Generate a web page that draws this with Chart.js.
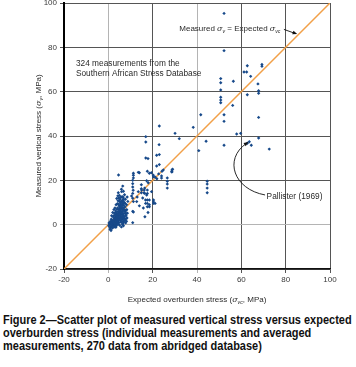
<!DOCTYPE html>
<html>
<head>
<meta charset="utf-8">
<script src="https://cdn.jsdelivr.net/npm/chart.js@4.4.0/dist/chart.umd.min.js"></script>
<style>
  html, body { margin: 0; padding: 0; background: #fff; }
  #wrap { position: relative; width: 356px; height: 367px; overflow: hidden; }
  #chart { position: absolute; left: 0; top: -5px; }
  #caption {
    position: absolute; left: 3px; top: 313px;
    font: bold 13px "Liberation Sans", Arial, sans-serif;
    line-height: 13px; color: #111; white-space: nowrap;
    transform-origin: 0 0;
  }
  #caption span { display: inline-block; }
</style>
</head>
<body>
<div id="wrap">
  <canvas id="chart" width="356" height="312"></canvas>
  <div id="caption">
    <span id="cap1">Figure 2—Scatter plot of measured vertical stress versus expected</span><br>
    <span>overburden stress (individual measurements and averaged</span><br>
    <span>measurements, 270 data from abridged database)</span>
  </div>
</div>
<script>
// [expected overburden stress, measured vertical stress] in MPa
const lowCluster = [
  [0.2,-0.5],[0.5,0.3],[0.8,-1.2],[1.0,-2.0],[1.2,0.5],[1.4,-0.8],[1.5,1.2],[1.7,0.0],[1.9,-1.5],[2.0,0.8],
  [2.1,2.0],[2.3,-0.4],[2.4,1.5],[2.6,0.2],[2.7,2.8],[2.8,-1.0],[3.0,1.0],[3.1,3.5],[3.2,0.4],[3.3,2.2],
  [3.5,-0.6],[3.6,1.8],[3.7,4.0],[3.8,0.9],[3.9,2.9],[4.0,5.0],[4.1,1.4],[4.2,3.3],[4.3,0.2],[4.4,6.0],
  [4.5,2.5],[4.6,4.4],[4.7,1.0],[4.8,7.0],[4.9,3.0],[5.0,5.5],[5.1,-0.3],[5.2,8.0],[5.3,2.0],[5.4,4.0],
  [5.5,6.5],[5.6,9.0],[5.7,3.2],[5.8,5.0],[5.9,10.5],[6.0,7.5],[6.1,1.5],[6.2,4.5],[6.3,8.5],[6.4,11.0],
  [6.5,6.0],[6.6,3.0],[6.7,9.5],[6.8,12.0],[6.9,7.0],[7.0,5.0],[7.2,10.0],[7.3,13.5],[7.5,8.0],[7.7,11.5],
  [8.0,6.5],[8.2,9.0],[8.5,12.5],[8.8,10.5],[0.3,0.8],[0.6,-0.2],[0.9,1.5],[1.1,0.2],[1.3,2.5],[1.6,-0.3],
  [1.8,1.8],[2.2,3.5],[2.5,-0.8],[2.9,1.8],[3.4,4.6],[3.4,-1.2],[3.6,5.5],[3.9,0.0],[4.0,3.8],[4.2,7.5],
  [4.5,0.5],[4.7,5.8],[4.9,8.5],[5.0,2.8],[5.2,6.8],[5.4,9.8],[5.6,1.2],[5.8,7.8],[6.0,12.5],[6.2,2.5],
  [6.4,6.8],[6.6,10.2],[6.8,4.2],[7.0,8.8],[7.1,2.8],[7.4,6.2],[7.6,9.6],[7.9,4.8],[2.0,-1.0],[2.6,4.2],
  [3.0,-0.2],[3.2,2.8],[3.7,1.2],[4.1,2.2],[4.4,4.8],[4.6,3.4],[5.1,4.6],[5.3,7.2],[5.5,3.6],[5.7,5.8],
  [6.1,9.2],[6.3,5.4],[6.7,7.6],[6.9,11.2],[7.2,6.6],[1.0,0.9],[1.5,0.4],[2.3,1.1],[2.8,0.6],[3.3,1.6],
  [3.8,2.4],[4.3,1.8],[4.8,2.2],[5.3,3.0],[5.8,2.8],[6.4,3.8],[0.8,-2.1],[1.2,-2.6],[4.5,14.4],[6.0,14.9],
  [6.5,0.5],[7.0,1.2],[7.5,2.0],[7.8,0.8],[8.2,1.5],[8.4,3.0],[6.8,-0.5],[7.3,3.6],[7.9,2.6],[8.0,4.0],
  [5.9,-1.0],[6.4,0.2],[6.9,1.9],[8.6,5.2],[8.3,6.8],[7.7,5.6],[1.5,4.0],[2.0,5.5],[2.5,6.8],[3.0,7.5],
  [3.5,9.0],[2.8,5.2],[3.3,6.2],[3.9,7.0],[4.1,9.5],[4.4,10.8],[4.7,12.0],[5.0,13.2],[5.3,11.5],[3.8,11.8],
  [4.3,13.0],[5.5,12.3],[5.0,10.6],[4.6,9.2]
];
const lowMidGroup = [
  [4.6,22.4],[11.3,23.2],[11.3,22.3],[11.3,21.1],[14.0,23.4],[13.5,23.6],[11.0,20.0],[11.0,18.5],[11.0,17.0],[11.2,15.5],
  [11.0,14.1],[11.0,11.9],[11.3,10.4],[10.5,12.9],[11.0,6.0],[11.0,0.9],[11.3,5.7],[6.5,17.4],[5.9,16.0],[6.8,15.1],
  [6.5,12.6],[5.6,10.2],[5.3,8.1],[14.9,18.0],[14.9,16.2],[14.9,14.4],[16.4,16.5],[16.4,14.1],[17.6,15.6],[17.6,14.1],
  [17.6,11.1],[17.6,9.6],[17.6,8.1],[18.5,11.1],[18.5,9.0],[18.5,8.1],[15.8,7.5],[13.5,14.9],[15.0,15.6],[16.1,14.4],
  [16.8,11.1],[16.8,9.6],[12.8,10.4],[14.0,8.5],[17.9,5.5],[16.5,3.6],[5.9,1.3],[15.5,12.0],[13.0,12.5]
];
const midGroup = [
  [16.9,39.7],[16.9,37.3],[23.0,44.5],[22.9,36.1],[21.8,31.3],[23.0,31.6],[23.0,27.1],[24.8,24.7],[24.2,24.1],[28.7,24.7],
  [28.7,23.8],[20.4,21.6],[21.9,20.7],[24.0,22.0],[24.0,21.0],[26.6,21.1],[26.6,19.6],[26.6,18.3],[26.6,16.5],[20.4,11.1],
  [20.4,10.2],[20.4,9.6],[16.9,30.1],[17.9,29.8],[21.8,26.5],[17.6,24.1],[18.5,23.2],[19.4,23.4],[20.3,22.3],[21.2,21.4],
  [22.7,22.9],[17.3,19.8],[18.0,18.9],[28.6,23.9],[29.0,25.0],[16.2,15.6],[17.3,13.4],[19.5,14.9],[21.1,9.6]
];
const highGroup = [
  [52.2,95.3],[52.2,78.5],[62.7,71.7],[69.3,72.3],[69.3,71.5],[61.2,68.9],[62.4,68.9],[64.2,66.9],[50.7,65.9],[50.7,64.0],
  [56.4,64.7],[50.7,60.8],[67.5,63.5],[67.8,60.4],[67.8,59.3],[62.7,58.6],[50.7,57.5],[50.7,56.2],[50.7,55.0],[56.1,53.8],
  [41.7,49.6],[52.2,49.6],[52.2,46.6],[67.8,48.4],[38.3,43.9],[30.1,41.2],[32.0,38.8],[44.1,37.6],[57.9,40.9],[59.7,41.2],
  [52.2,35.8],[67.8,39.1],[63.6,37.4],[62.7,36.7],[64.5,35.8],[72.6,34.1],[40.8,33.4],[44.6,19.6],[44.6,18.3],[44.6,16.5],
  [44.6,14.4]
];
const equalityLine = [[-20,-20],[100,100]];
const axisTicks = [-20, 0, 20, 40, 60, 80, 100];
const lightGridValues = [0, 40];   // these vertical grid lines are lighter grey
const lightRowValues = [0];        // and this horizontal one

const toXY = p => ({ x: p[0], y: p[1] });
const measurements = [].concat(lowCluster, lowMidGroup, midGroup, highGroup).map(toXY);

const FONT = '"Liberation Sans", Arial, sans-serif';
const TEXT = '#2a2a2a';

// draws text made of [string, style] parts; style: n normal, i italic, s italic subscript
function fontFor(k, size) {
  if (k === 's') return 'italic ' + (size * 0.65) + 'px ' + FONT;
  if (k === 'i') return 'italic ' + size + 'px "DejaVu Serif", serif';
  return size + 'px ' + FONT;
}
function richWidth(ctx, parts, size) {
  let w = 0;
  parts.forEach(([t, k]) => {
    ctx.font = fontFor(k, size);
    w += ctx.measureText(t).width;
  });
  return w;
}
function drawRich(ctx, parts, x, y, size, align) {
  let cx = align === 'center' ? x - richWidth(ctx, parts, size) / 2 : x;
  ctx.textAlign = 'left';
  ctx.textBaseline = 'alphabetic';
  parts.forEach(([t, k]) => {
    ctx.font = fontFor(k, size);
    ctx.fillText(t, cx, k === 's' ? y + size * 0.25 : y);
    cx += ctx.measureText(t).width;
  });
}
function arrowHead(ctx, x, y, ang, len) {
  ctx.beginPath();
  ctx.moveTo(x, y);
  ctx.lineTo(x - len * Math.cos(ang - 0.4), y - len * Math.sin(ang - 0.4));
  ctx.lineTo(x - len * Math.cos(ang + 0.4), y - len * Math.sin(ang + 0.4));
  ctx.closePath();
  ctx.fill();
}

const annotations = {
  id: 'annotations',
  afterDraw(chart) {
    const { ctx, chartArea, scales: { x, y } } = chart;
    const px = v => x.getPixelForValue(v);
    const py = v => y.getPixelForValue(v);
    ctx.save();
    ctx.fillStyle = TEXT;
    ctx.strokeStyle = '#111';

    // axis titles
    drawRich(ctx, [['Expected overburden stress (', 'n'], ['σ', 'i'], ['vc', 's'], [', MPa)', 'n']],
      (chartArea.left + chartArea.right) / 2, chartArea.bottom + 33, 8, 'center');
    ctx.save();
    ctx.translate(chartArea.left - 23, (chartArea.top + chartArea.bottom) / 2);
    ctx.rotate(-Math.PI / 2);
    drawRich(ctx, [['Measured vertical stress (', 'n'], ['σ', 'i'], ['v', 's'], [', MPa)', 'n']], 0, 0, 8, 'center');
    ctx.restore();

    // notes inside the plot
    drawRich(ctx, [['324 measurements from the', 'n']], px(-14.6), py(71.6), 8.3, 'left');
    drawRich(ctx, [['Southern African Stress Database', 'n']], px(-14.6), py(67.1), 8.3, 'left');
    drawRich(ctx, [['Measured ', 'n'], ['σ', 'i'], ['v', 's'], [' = Expected ', 'n'], ['σ', 'i'], ['vc', 's']],
      px(32.0), py(87.4), 8, 'left');
    drawRich(ctx, [['Pallister (1969)', 'n']], px(71.4), py(11.7), 8.3, 'left');

    // arrow to the equality line
    ctx.lineWidth = 0.9;
    ctx.beginPath();
    ctx.moveTo(px(79.2), py(88.1));
    ctx.lineTo(px(84.2), py(86.3));
    ctx.stroke();
    ctx.fillStyle = '#111';
    arrowHead(ctx, px(85.2), py(86.0), Math.atan2(py(86.0) - py(88.1), px(85.2) - px(79.2)), 5);

    // curved arrow to the Pallister points
    ctx.beginPath();
    ctx.moveTo(px(70.7), py(13.4));
    ctx.bezierCurveTo(px(56.5), py(16.0), px(52.0), py(29.5), px(62.2), py(36.6));
    ctx.stroke();
    arrowHead(ctx, px(63.2), py(37.3), Math.atan2(py(37.3) - py(35.8), px(63.2) - px(61.0)), 5);
    ctx.restore();
  }
};

new Chart(document.getElementById('chart'), {
  type: 'scatter',
  data: {
    datasets: [
      {
        label: 'Measurements',
        data: measurements,
        backgroundColor: '#17498a',
        borderColor: '#17498a',
        pointStyle: 'rectRot',
        pointRadius: 1.7,
        borderWidth: 0
      },
      {
        label: 'Measured = Expected',
        type: 'line',
        data: equalityLine.map(toXY),
        borderColor: '#f2a048',
        borderWidth: 1.5,
        pointRadius: 0,
        fill: false
      }
    ]
  },
  options: {
    responsive: false,
    animation: false,
    events: [],
    layout: { padding: { top: 8, right: 26, left: 0, bottom: 0 } },
    plugins: { legend: { display: false }, tooltip: { enabled: false } },
    scales: {
      x: {
        type: 'linear', min: -20, max: 100,
        afterBuildTicks: s => { s.ticks = axisTicks.map(v => ({ value: v })); },
        afterFit: s => { s.height = 38; },
        border: { color: '#111', width: 1.5 },
        grid: {
          color: c => lightGridValues.includes(c.tick && c.tick.value) ? '#b4b4b4' : '#555',
          lineWidth: 1, tickLength: 4
        },
        ticks: { color: '#3a3a3a', padding: 2, font: { family: FONT, size: 8 } }
      },
      y: {
        type: 'linear', min: -20, max: 100,
        afterBuildTicks: s => { s.ticks = axisTicks.map(v => ({ value: v })); },
        afterFit: s => { s.width = 64; },
        border: { color: '#000', width: 2 },
        grid: {
          color: c => lightRowValues.includes(c.tick && c.tick.value) ? '#b4b4b4' : '#555',
          lineWidth: 1, tickLength: 4
        },
        ticks: { color: '#3a3a3a', padding: 3, font: { family: FONT, size: 8 } }
      }
    }
  },
  plugins: [annotations]
});

// squeeze the bold caption to the narrow width of the original typesetting
const cap = document.getElementById('caption');
const w = document.getElementById('cap1').offsetWidth;
cap.style.transform = 'scaleX(' + (349 / w) + ')';
</script>
</body>
</html>
